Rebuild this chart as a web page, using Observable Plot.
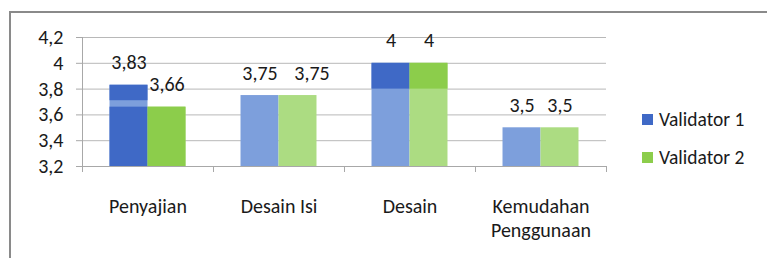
<!DOCTYPE html>
<html>
<head>
<meta charset="utf-8">
<script src="https://cdn.jsdelivr.net/npm/d3@7"></script>
<script src="https://cdn.jsdelivr.net/npm/@observablehq/plot@0.6"></script>
<style>
  html, body { margin: 0; padding: 0; background: #fff; }
  #wrap { position: relative; width: 767px; height: 258px; overflow: hidden; font-family: Carlito, Lato, "Open Sans", sans-serif; }
  #frame { position: absolute; left: 9px; top: 11px; width: 800px; height: 300px; border-top: 2px solid #8a8a8a; border-left: 2px solid #8a8a8a; }
  #chart { position: absolute; left: 0; top: 0; }
  .leg { position: absolute; left: 642px; font-size: 19.5px; color: #1a1a1a; display: flex; align-items: center; height: 24px; }
  .leg span.sw { display: inline-block; width: 11px; height: 11px; margin-right: 6px; }
</style>
</head>
<body>
<div id="wrap">
  <div id="frame"></div>
  <div id="chart"></div>
  <div id="legend"></div>
</div>
<script>
const categories = ["Penyajian", "Desain Isi", "Desain", "Kemudahan Penggunaan"];
const categoryLabels = ["Penyajian", "Desain Isi", "Desain", "Kemudahan\nPenggunaan"];
const seriesNames = ["Validator 1", "Validator 2"];
const validator1 = [3.83, 3.75, 4, 3.5];
const validator2 = [3.66, 3.75, 4, 3.5];
const yTicks = [3.2, 3.4, 3.6, 3.8, 4, 4.2];
// darker shaded segments seen on some bars: [category index, series index, from, to]
const darkSegments = [
  [0, 0, 3.2, 3.66], [0, 0, 3.71, 3.83],
  [0, 1, 3.2, 3.66],
  [2, 0, 3.8, 4], [2, 1, 3.8, 4]
];

const lightColors = ["#7d9fdc", "#acdc82"];
const darkColors = ["#3f69c6", "#8ccd4b"];
const FS = 20;

const rows = categories.flatMap((c, i) => [
  {i, k: 0, cat: c, v: validator1[i]},
  {i, k: 1, cat: c, v: validator2[i]}
]);
const segs = darkSegments.map(([i, k, a, b]) => ({i, k, a, b}));

const pad = 0.21, bw = 0.29;
const x1 = d => d.i + pad + d.k * bw;
const x2 = d => d.i + pad + (d.k + 1) * bw;
const fmt = d => String(d).replace(".", ",");
// labels that would collide with their neighbour (same height, wide text) are nudged right
const crowded = d => d.k === 1 && validator1[d.i] === d.v && fmt(d.v).length > 3;

const chart = Plot.plot({
  width: 767,
  height: 258,
  marginLeft: 82,
  marginRight: 161,
  marginTop: 37,
  marginBottom: 92,
  style: {fontFamily: "Carlito, Lato, 'Open Sans', sans-serif", fontSize: FS + "px", color: "#1a1a1a", background: "transparent"},
  x: {domain: [0, 4], axis: null},
  y: {domain: [3.2, 4.2], axis: null},
  marks: [
    Plot.gridY(yTicks, {stroke: "#b8b8b8", strokeOpacity: 1}),
    Plot.rect(rows, {x1, x2, y1: 3.2, y2: "v", fill: d => lightColors[d.k]}),
    Plot.rect(segs, {x1, x2, y1: "a", y2: "b", fill: d => darkColors[d.k]}),
    Plot.ruleX([0], {y1: 3.2, y2: 4.2, stroke: "#a8a8a8"}),
    Plot.ruleY([3.2], {stroke: "#a8a8a8"}),
    Plot.axisY({ticks: yTicks, tickFormat: fmt, tickSize: 6, tickPadding: 13, stroke: "#a8a8a8", fontSize: FS, fill: "#1a1a1a"}),
    Plot.axisX({ticks: [0, 1, 2, 3, 4], tickFormat: () => "", tickSize: 6, stroke: "#a8a8a8"}),
    Plot.text(rows.filter(d => !crowded(d)), {x: d => (x1(d) + x2(d)) / 2, y: "v", text: d => fmt(d.v), dy: -16, lineAnchor: "bottom", fill: "#1a1a1a", fontSize: FS}),
    Plot.text(rows.filter(crowded), {x: d => (x1(d) + x2(d)) / 2, y: "v", text: d => fmt(d.v), dx: 14, dy: -16, lineAnchor: "bottom", fill: "#1a1a1a", fontSize: FS}),
    Plot.text(categoryLabels, {x: (d, i) => i + 0.5, y: 3.2, text: d => d, dy: 29, lineAnchor: "top", lineHeight: 24 / FS, fill: "#1a1a1a", fontSize: FS})
  ]
});
document.getElementById("chart").appendChild(chart);

const legend = document.getElementById("legend");
seriesNames.forEach((name, k) => {
  const el = document.createElement("div");
  el.className = "leg";
  el.style.top = (107 + k * 38) + "px";
  el.innerHTML = `<span class="sw" style="background:${darkColors[k]}"></span>${name}`;
  legend.appendChild(el);
});
</script>
</body>
</html>
